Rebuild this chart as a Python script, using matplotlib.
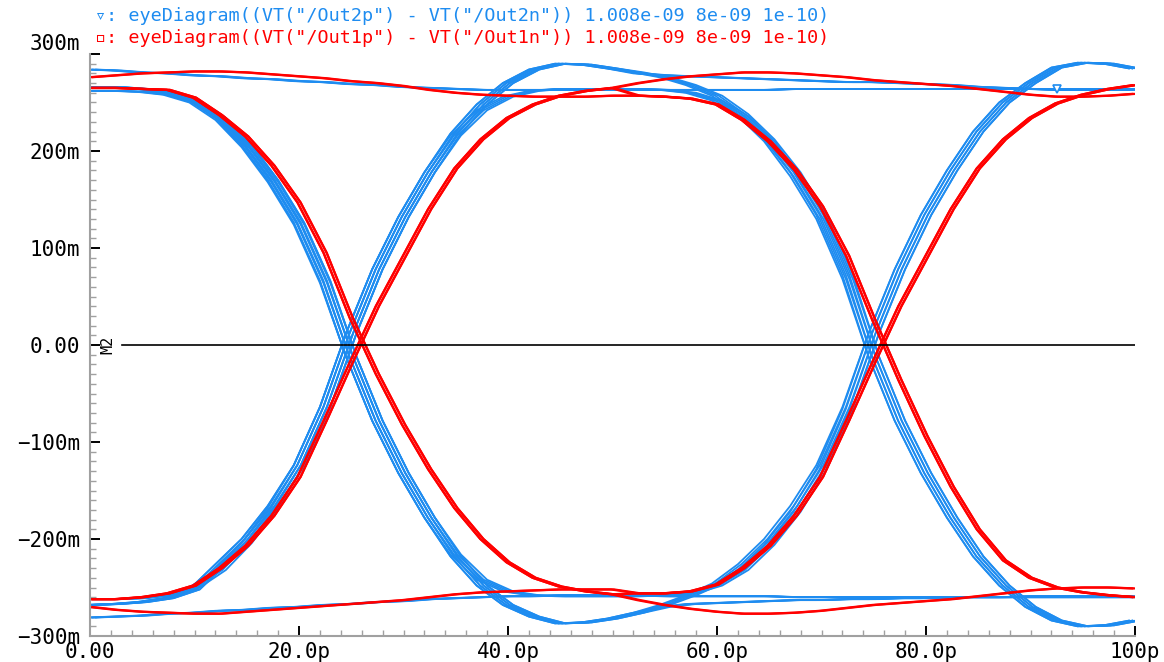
import matplotlib
matplotlib.use('Agg')
import matplotlib.pyplot as plt
from matplotlib.ticker import MultipleLocator

# time grid of one half window (ps); the window is two bits of 50 ps
t_half = [0, 2.5, 5, 7.5, 10, 12.5, 15, 17.5, 20, 22.5, 25, 27.5, 30, 32.5, 35,
          37.5, 40, 42.5, 45, 47.5, 50]

# Out2 (blue) half-window pieces, mV
b_fall_dip = [266, 266, 264, 260, 252, 234, 206, 170, 126, 66, -12, -78, -132, -178, -218,
              -248, -268, -280, -287, -286, -282]
b_rise_bump = [-268, -267, -265, -261, -252, -226, -200, -166, -124, -64, 12, 78, 132, 178, 218,
               248, 270, 284, 290, 289, 285]
b_fall_after_bump = [285, 281, 276, 268, 257, 238, 212, 178, 134, 72, -12, -78, -132, -178, -218,
                     -248, -270, -284, -290, -289, -284]
b_rise_after_dip = [-282, -276, -268, -258, -246, -226, -200, -166, -124, -64, 12, 78, 134, 180, 220,
                    250, 270, 286, 291, 290, 285]
b_hold_hi_after_bump = [285, 280, 278, 277, 276, 275, 274, 273, 272, 271, 271, 270, 269, 268, 266,
                        265, 264, 263, 263, 263, 263]
b_hold_lo_after_dip = [-282, -276, -270, -267, -266, -265, -264, -263, -263, -262, -262, -261, -261,
                       -260, -260, -260, -259, -259, -259, -259, -259]
b_hold_hi_first = [284, 283, 281, 280, 278, 277, 275, 274, 272, 271, 269, 268, 266, 265, 264,
                   263, 263, 263, 263, 263, 263]
b_hold_lo_first = [-281, -280, -279, -277, -276, -274, -273, -271, -270, -268, -267, -265, -264,
                   -262, -261, -260, -259, -259, -258, -258, -258]
b_hold_hi_flat = [263, 263, 263, 263, 263, 263, 263, 264, 264, 264, 264, 264, 264, 264, 264,
                  264, 264, 264, 264, 264, 264]
b_hold_lo_flat = [-258, -258, -259, -259, -259, -259, -259, -260, -260, -260, -260, -260, -260,
                  -260, -260, -260, -260, -260, -260, -260, -260]
b_rise_settle = [-262, -262, -261, -258, -250, -232, -204, -168, -124, -64, 12, 78, 132, 178, 216,
                 242, 256, 262, 264, 264, 264]
b_fall_settle = [262, 262, 261, 258, 250, 232, 204, 168, 124, 64, -12, -78, -132, -178, -216,
                 -242, -254, -258, -259, -259, -259]
b_fall_from_flat = [264, 264, 263, 260, 252, 236, 210, 174, 130, 68, -12, -78, -132, -178, -218,
                    -248, -270, -284, -290, -289, -284]
b_rise_from_flat = [-259, -259, -258, -256, -248, -232, -206, -172, -128, -66, 12, 78, 134, 180, 220,
                    250, 270, 286, 291, 290, 285]

# Out1 (red) half-window pieces, mV
r_fall = [265, 265, 264, 263, 255, 237, 215, 185, 147, 95, 28, -30, -82, -128, -168,
          -200, -224, -240, -249, -254, -257]
r_rise = [-262, -262, -260, -256, -248, -230, -207, -176, -136, -78, -18, 40, 90, 140, 182,
          212, 234, 248, 257, 262, 265]
r_hold_hi_first = [276, 278, 280, 281, 282, 282, 281, 279, 277, 275, 272, 270, 267, 263, 260,
                   258, 257, 256, 256, 256, 257]
r_hold_lo_first = [-270, -273, -275, -276, -277, -277, -275, -273, -271, -269, -267, -265, -263,
                   -260, -257, -255, -254, -253, -252, -252, -252]
r_hold_hi_after_rise = [265, 270, 274, 277, 279, 281, 281, 280, 278, 276, 273, 271, 269, 267, 264,
                        261, 258, 256, 256, 257, 259]
r_hold_lo_after_fall = [-257, -263, -268, -272, -275, -277, -277, -276, -274, -271, -268, -266,
                        -264, -262, -259, -256, -253, -251, -250, -250, -251]
r_fall_late = [257, 257, 256, 254, 248, 232, 210, 181, 143, 92, 26, -36, -94, -146, -190,
               -222, -240, -250, -255, -258, -260]
r_rise_late = [-255, -256, -256, -254, -247, -230, -207, -176, -136, -78, -18, 40, 90, 140, 182,
               212, 234, 249, 258, 264, 268]

# traces = (first bit, second bit)
blue_traces = [
    (b_hold_hi_first, b_hold_hi_flat),
    (b_hold_lo_first, b_hold_lo_flat),
    (b_rise_bump, b_fall_after_bump),
    (b_fall_dip, b_rise_after_dip),
    (b_rise_bump, b_hold_hi_after_bump),
    (b_fall_dip, b_hold_lo_after_dip),
    (b_rise_settle, b_fall_from_flat),
    (b_fall_settle, b_rise_from_flat),
]
red_traces = [
    (r_hold_hi_first, r_fall_late),
    (r_hold_lo_first, r_rise_late),
    (r_fall, r_hold_lo_after_fall),
    (r_rise, r_hold_hi_after_rise),
    (r_fall, r_rise_late),
    (r_rise, r_fall_late),
]

x_ticks = [0, 20, 40, 60, 80, 100]
x_labels = ['0.00', '20.0p', '40.0p', '60.0p', '80.0p', '100p']
y_ticks = [-300, -200, -100, 0, 100, 200, 300]
y_labels = ['\u2212300m', '\u2212200m', '\u2212100m', '0.00', '100m', '200m', '300m']

legend_blue = '\u25bf: eyeDiagram((VT("/Out2p") - VT("/Out2n")) 1.008e-09 8e-09 1e-10)'
legend_red = '\u25ab: eyeDiagram((VT("/Out1p") - VT("/Out1n")) 1.008e-09 8e-09 1e-10)'

BLUE = '#1e8cf0'
RED = '#ff0000'
MONO = 'DejaVu Sans Mono'

x_full = t_half + [50 + t for t in t_half[1:]]

fig = plt.figure(figsize=(11.64, 6.62), dpi=100)
ax = fig.add_axes([90 / 1164, 1 - 636 / 662, 1045 / 1164, 582 / 662])


def draw(traces, color, shifts, lw):
    for first, second in traces:
        ys = first + second[1:]
        for dx in shifts:
            ax.plot([x + dx for x in x_full], ys, color=color, lw=lw,
                    solid_capstyle='butt', clip_on=True)


draw(blue_traces, BLUE, [-0.5, -0.17, 0.17, 0.5], 1.3)
draw(red_traces, RED, [-0.15, 0.15], 1.6)

# trace marker on the upper blue line
first, second = blue_traces[0]
ys0 = first + second[1:]
ax.plot(x_full[37], ys0[37], marker='v', ms=6, mfc='white', mec=BLUE, mew=1.2,
        linestyle='none')

# M2 marker line at 0
ax.axhline(0, xmin=0.031, color='black', lw=1.2)
ax.text(1.7, 0, 'M2', rotation=90, ha='center', va='center', fontsize=11,
        family=MONO, color='black')

ax.set_xlim(0, 100)
ax.set_ylim(-300, 300)
ax.set_xticks(x_ticks)
ax.set_xticklabels(x_labels)
ax.set_yticks(y_ticks)
ax.set_yticklabels(y_labels)
ax.xaxis.set_minor_locator(MultipleLocator(2))
ax.yaxis.set_minor_locator(MultipleLocator(10))

for lab in ax.get_xticklabels() + ax.get_yticklabels():
    lab.set_family(MONO)
ax.get_yticklabels()[-1].set_va('bottom')

ax.tick_params(which='major', direction='in', length=7, width=1.4, color='black',
               labelsize=15)
ax.tick_params(axis='y', which='major', pad=7)
ax.tick_params(axis='x', which='major', pad=4)
ax.tick_params(which='minor', direction='in', length=4, width=1, color='#a0a0a0')

for side in ['top', 'right']:
    ax.spines[side].set_visible(False)
for side in ['left', 'bottom']:
    ax.spines[side].set_color('#a0a0a0')
    ax.spines[side].set_linewidth(1.5)

fig.text(95 / 1164, 1 - 16 / 662, legend_blue, color=BLUE, fontsize=13.3, family=MONO,
         va='center', ha='left')
fig.text(95 / 1164, 1 - 38 / 662, legend_red, color=RED, fontsize=13.3, family=MONO,
         va='center', ha='left')

fig.savefig('out.png', dpi=100)
